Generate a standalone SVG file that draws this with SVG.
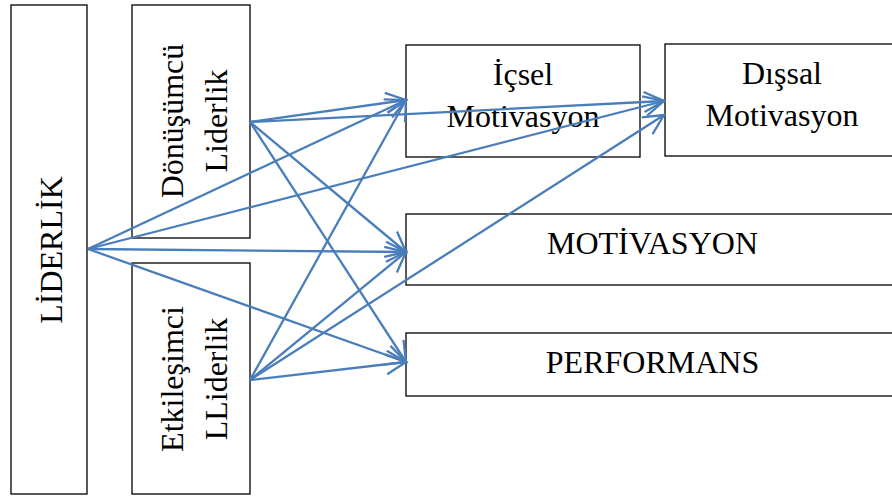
<svg xmlns="http://www.w3.org/2000/svg" width="892" height="497" viewBox="0 0 892 497">
<style>
.box{fill:#fff;stroke:#000;stroke-width:1.3}
.t{font-family:"Liberation Serif","Times New Roman",serif;font-size:32px;fill:#000;text-anchor:middle}
.c{fill:none;stroke:#4A7EBB;stroke-width:2.3;marker-end:url(#arr)}
</style>
<defs>
<marker id="arr" markerUnits="userSpaceOnUse" markerWidth="26" markerHeight="26" refX="21" refY="13" orient="auto" viewBox="0 0 26 26">
<path d="M1,3 L21,13 L1,23" fill="none" stroke="#4A7EBB" stroke-width="2.3" stroke-linejoin="miter"/>
</marker>
</defs>
<rect width="892" height="497" fill="#fff"/>
<g id="liderlik">
<rect class="box" x="11" y="5" width="76" height="489"/>
<text class="t" transform="translate(62,250) rotate(-90)">LİDERLİK</text>
</g>
<g id="donusumcu">
<rect class="box" x="132" y="5" width="118" height="233"/>
<text class="t" transform="translate(183,121) rotate(-90)">Dönüşümcü</text>
<text class="t" transform="translate(227,121) rotate(-90)">Liderlik</text>
</g>
<g id="etkilesimci">
<rect class="box" x="132" y="263" width="118" height="231"/>
<text class="t" transform="translate(183,379) rotate(-90)">Etkileşimci</text>
<text class="t" transform="translate(227,379) rotate(-90)">LLiderlik</text>
</g>
<g id="icsel">
<rect class="box" x="406" y="45" width="234" height="112"/>
<text class="t" x="523" y="85">İçsel</text>
<text class="t" x="523" y="127">Motivasyon</text>
</g>
<g id="dissal">
<rect class="box" x="665" y="44" width="233" height="112"/>
<text class="t" x="782" y="84">Dışsal</text>
<text class="t" x="782" y="126">Motivasyon</text>
</g>
<g id="motivasyon">
<rect class="box" x="406" y="214" width="493" height="71"/>
<text class="t" x="652.5" y="254">MOTİVASYON</text>
</g>
<g id="performans">
<rect class="box" x="406" y="333" width="493" height="63"/>
<text class="t" x="652.5" y="373">PERFORMANS</text>
</g>
<g id="connectors">
<line class="c" x1="88" y1="249" x2="406" y2="100"/>
<line class="c" x1="88" y1="249" x2="664" y2="101"/>
<line class="c" x1="88" y1="249" x2="406" y2="252"/>
<line class="c" x1="88" y1="249" x2="406" y2="362"/>
<line class="c" x1="250" y1="122" x2="406" y2="100"/>
<line class="c" x1="250" y1="122" x2="664" y2="101"/>
<line class="c" x1="250" y1="122" x2="406" y2="252"/>
<line class="c" x1="250" y1="122" x2="406" y2="362"/>
<line class="c" x1="250" y1="380" x2="406" y2="100"/>
<line class="c" x1="250" y1="380" x2="664" y2="115"/>
<line class="c" x1="250" y1="380" x2="406" y2="252"/>
<line class="c" x1="250" y1="380" x2="406" y2="362"/>
</g>
</svg>
